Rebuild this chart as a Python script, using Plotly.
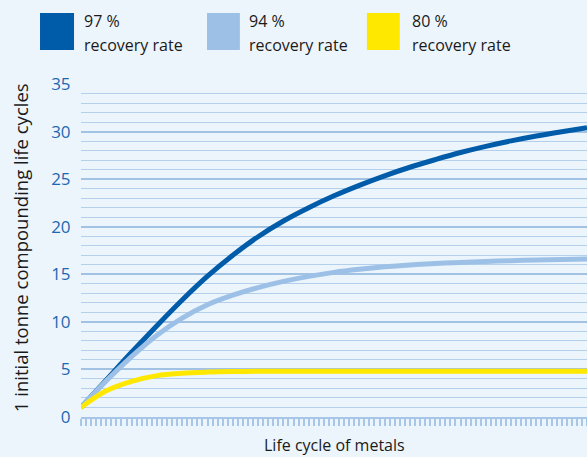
import plotly.graph_objects as go

# life cycle index (x) and cumulative tonnes for each recovery rate
cycles = [0, 5, 10, 15, 20, 25, 30, 35, 40, 45, 50, 55, 60, 65, 70, 75, 80, 85, 90, 95, 100]
rate_97 = [1, 3.9, 6.8, 9.6, 12.3, 14.8, 17.0, 18.95, 20.6, 22.0, 23.25, 24.35, 25.35, 26.25, 27.05,
           27.8, 28.45, 29.02, 29.53, 29.98, 30.4]
rate_94 = [1, 3.8, 6.35, 8.6, 10.4, 11.8, 12.8, 13.6, 14.25, 14.78, 15.2, 15.52, 15.78, 15.98, 16.13,
           16.25, 16.35, 16.43, 16.5, 16.55, 16.6]
rate_80 = [1, 2.75, 3.75, 4.35, 4.6, 4.72, 4.78, 4.8, 4.8, 4.8, 4.8, 4.8, 4.8, 4.8, 4.8,
           4.8, 4.8, 4.8, 4.8, 4.8, 4.8]

series = [
    ("97 %", rate_97, "#005ca9"),
    ("94 %", rate_94, "#9dc1e6"),
    ("80 %", rate_80, "#ffe800"),
]

BG = "#edf5fc"
GRID = "#a8c7e8"
FONT = "Open Sans, sans-serif"

fig = go.Figure()
for name, vals, color in series:
    fig.add_scatter(x=cycles, y=vals, mode="lines", name=name, showlegend=False,
                    line=dict(color=color, width=5, shape="spline", smoothing=1.0))

# legend: coloured squares + two-line labels
legend_pos = [(-0.081, -0.0138, 0.002), (0.249, 0.314, 0.328), (0.565, 0.630, 0.650)]
for (name, _, color), (x0, x1, tx) in zip(series, legend_pos):
    fig.add_shape(type="rect", xref="paper", yref="paper", x0=x0, x1=x1, y0=1.102, y1=1.213,
                  fillcolor=color, line=dict(width=0))
    fig.add_annotation(text=name, xref="paper", yref="paper", x=tx, y=1.19, xanchor="left",
                       yanchor="middle", showarrow=False, font=dict(size=16, color="#1a1a1a", family=FONT))
    fig.add_annotation(text="recovery rate", xref="paper", yref="paper", x=tx, y=1.118, xanchor="left",
                       yanchor="middle", showarrow=False, font=dict(size=16, color="#1a1a1a", family=FONT))

fig.add_annotation(text="1 initial tonne compounding life cycles", xref="paper", yref="paper",
                   x=-0.1206, y=0.51, textangle=-90, xanchor="center", yanchor="middle", showarrow=False,
                   font=dict(size=18.5, color="#1a1a1a", family=FONT))
fig.add_annotation(text="Life cycle of metals", xref="paper", yref="paper", x=0.5, y=-0.084,
                   xanchor="center", yanchor="middle", showarrow=False,
                   font=dict(size=16, color="#1a1a1a", family=FONT))

fig.update_layout(
    width=587, height=457,
    margin=dict(l=81, r=0, t=84, b=40),
    plot_bgcolor=BG, paper_bgcolor=BG,
    font=dict(family=FONT),
    xaxis=dict(range=[0, 100], showgrid=False, zeroline=False, showticklabels=False,
               showline=True, linecolor=GRID, linewidth=2,
               ticks="outside", dtick=1, tick0=0, ticklen=7, tickwidth=1.5, tickcolor=GRID),
    yaxis=dict(range=[0, 35], dtick=5, showgrid=True, gridcolor="#a2c2e4", gridwidth=2,
               zeroline=False, showline=False,
               ticks="outside", ticklen=6, tickcolor="rgba(0,0,0,0)",
               tickfont=dict(size=17, color="#1c68b0", family=FONT),
               minor=dict(dtick=1, showgrid=True, gridcolor="#b3cfec", gridwidth=1.2)),
)

fig.write_html("out.html", config={"displayModeBar": False},
               post_script="document.body.style.margin='0';document.body.style.background='%s';" % BG)
